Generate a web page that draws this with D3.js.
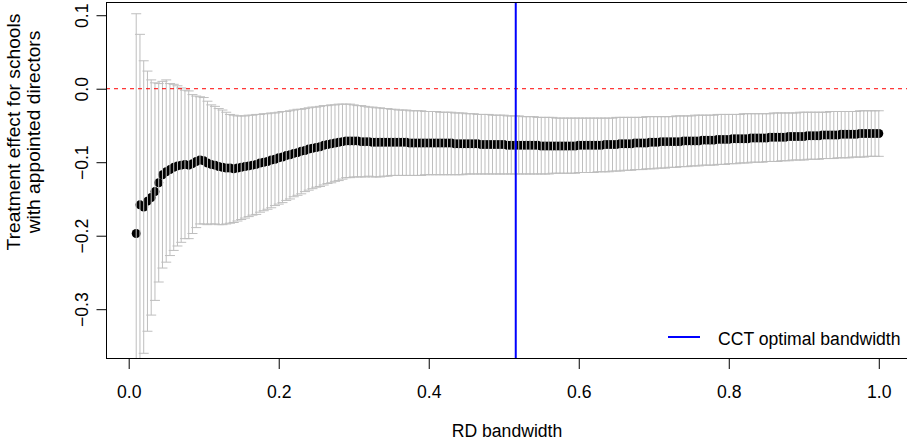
<!DOCTYPE html>
<html>
<head>
<meta charset="utf-8">
<script src="https://cdn.jsdelivr.net/npm/d3@7"></script>
<style>
  html, body { margin: 0; padding: 0; background: #fff; }
  svg { display: block; }
  text { font-family: "Liberation Sans", Arial, Helvetica, sans-serif; }
</style>
</head>
<body>
<svg id="chart" width="907" height="441"></svg>
<script>
// ---- data ----
const bandwidth = [
  0.010,0.015,0.020,0.025,0.030,0.035,0.040,0.045,0.050,0.055,
  0.060,0.065,0.070,0.075,0.080,0.085,0.090,0.095,0.100,0.105,
  0.110,0.115,0.120,0.125,0.130,0.135,0.140,0.145,0.150,0.155,
  0.160,0.165,0.170,0.175,0.180,0.185,0.190,0.195,0.200,0.205,
  0.210,0.215,0.220,0.225,0.230,0.235,0.240,0.245,0.250,0.255,
  0.260,0.265,0.270,0.275,0.280,0.285,0.290,0.295,0.300,0.305,
  0.310,0.315,0.320,0.325,0.330,0.335,0.340,0.345,0.350,0.355,
  0.360,0.365,0.370,0.375,0.380,0.385,0.390,0.395,0.400,0.405,
  0.410,0.415,0.420,0.425,0.430,0.435,0.440,0.445,0.450,0.455,
  0.460,0.465,0.470,0.475,0.480,0.485,0.490,0.495,0.500,0.505,
  0.510,0.515,0.520,0.525,0.530,0.535,0.540,0.545,0.550,0.555,
  0.560,0.565,0.570,0.575,0.580,0.585,0.590,0.595,0.600,0.605,
  0.610,0.615,0.620,0.625,0.630,0.635,0.640,0.645,0.650,0.655,
  0.660,0.665,0.670,0.675,0.680,0.685,0.690,0.695,0.700,0.705,
  0.710,0.715,0.720,0.725,0.730,0.735,0.740,0.745,0.750,0.755,
  0.760,0.765,0.770,0.775,0.780,0.785,0.790,0.795,0.800,0.805,
  0.810,0.815,0.820,0.825,0.830,0.835,0.840,0.845,0.850,0.855,
  0.860,0.865,0.870,0.875,0.880,0.885,0.890,0.895,0.900,0.905,
  0.910,0.915,0.920,0.925,0.930,0.935,0.940,0.945,0.950,0.955,
  0.960,0.965,0.970,0.975,0.980,0.985,0.990,0.995,1.000
];

const estimate = [
  -0.197,-0.158,-0.161,-0.153,-0.148,-0.140,-0.128,-0.117,-0.113,-0.110,
  -0.107,-0.105,-0.104,-0.103,-0.104,-0.102,-0.099,-0.097,-0.098,-0.101,
  -0.103,-0.104,-0.106,-0.107,-0.108,-0.108,-0.109,-0.108,-0.107,-0.106,
  -0.105,-0.104,-0.103,-0.101,-0.100,-0.099,-0.097,-0.096,-0.094,-0.093,
  -0.091,-0.090,-0.088,-0.087,-0.085,-0.084,-0.082,-0.081,-0.080,-0.079,
  -0.077,-0.076,-0.075,-0.074,-0.073,-0.072,-0.071,-0.071,-0.071,-0.071,
  -0.072,-0.072,-0.072,-0.073,-0.073,-0.073,-0.073,-0.073,-0.073,-0.073,
  -0.073,-0.073,-0.073,-0.074,-0.074,-0.074,-0.074,-0.074,-0.074,-0.074,
  -0.074,-0.074,-0.074,-0.074,-0.074,-0.075,-0.075,-0.075,-0.075,-0.075,
  -0.075,-0.075,-0.076,-0.076,-0.076,-0.076,-0.076,-0.076,-0.076,-0.077,
  -0.077,-0.077,-0.077,-0.077,-0.077,-0.077,-0.077,-0.077,-0.078,-0.078,
  -0.078,-0.078,-0.078,-0.078,-0.078,-0.078,-0.078,-0.078,-0.077,-0.077,
  -0.077,-0.077,-0.077,-0.077,-0.077,-0.076,-0.076,-0.076,-0.076,-0.075,
  -0.075,-0.075,-0.075,-0.074,-0.074,-0.074,-0.074,-0.073,-0.073,-0.073,
  -0.072,-0.072,-0.072,-0.072,-0.072,-0.072,-0.071,-0.071,-0.071,-0.071,
  -0.071,-0.070,-0.070,-0.070,-0.070,-0.069,-0.069,-0.069,-0.069,-0.068,
  -0.068,-0.068,-0.068,-0.068,-0.067,-0.067,-0.067,-0.067,-0.067,-0.066,
  -0.066,-0.066,-0.066,-0.066,-0.065,-0.065,-0.065,-0.065,-0.065,-0.064,
  -0.064,-0.064,-0.064,-0.063,-0.063,-0.063,-0.063,-0.063,-0.062,-0.062,
  -0.062,-0.062,-0.062,-0.061,-0.061,-0.061,-0.061,-0.061,-0.061
];

const upperCI = [
   0.102, 0.074, 0.038, 0.024, 0.012, 0.008, 0.007, 0.010, 0.012, 0.007,
   0.006, 0.004, 0.001,-0.002,-0.003,-0.008,-0.010,-0.011,-0.012,-0.017,
  -0.022,-0.024,-0.027,-0.029,-0.032,-0.035,-0.036,-0.037,-0.037,-0.037,
  -0.036,-0.036,-0.035,-0.035,-0.034,-0.034,-0.033,-0.033,-0.032,-0.031,
  -0.031,-0.030,-0.029,-0.028,-0.028,-0.027,-0.026,-0.025,-0.025,-0.024,
  -0.023,-0.023,-0.022,-0.022,-0.021,-0.021,-0.021,-0.021,-0.022,-0.023,
  -0.023,-0.024,-0.025,-0.025,-0.026,-0.026,-0.027,-0.027,-0.028,-0.028,
  -0.029,-0.029,-0.029,-0.030,-0.030,-0.030,-0.030,-0.031,-0.031,-0.031,
  -0.031,-0.032,-0.032,-0.032,-0.032,-0.033,-0.033,-0.033,-0.034,-0.034,
  -0.034,-0.035,-0.035,-0.035,-0.035,-0.036,-0.036,-0.036,-0.036,-0.037,
  -0.037,-0.037,-0.037,-0.038,-0.038,-0.038,-0.038,-0.039,-0.039,-0.039,
  -0.039,-0.039,-0.040,-0.040,-0.040,-0.040,-0.040,-0.040,-0.040,-0.040,
  -0.040,-0.040,-0.040,-0.040,-0.040,-0.040,-0.040,-0.040,-0.039,-0.039,
  -0.039,-0.039,-0.039,-0.039,-0.039,-0.039,-0.038,-0.038,-0.038,-0.038,
  -0.038,-0.038,-0.038,-0.038,-0.037,-0.037,-0.037,-0.037,-0.037,-0.036,
  -0.036,-0.036,-0.036,-0.036,-0.036,-0.035,-0.035,-0.035,-0.035,-0.035,
  -0.035,-0.035,-0.034,-0.034,-0.034,-0.034,-0.034,-0.034,-0.034,-0.034,
  -0.033,-0.033,-0.033,-0.033,-0.033,-0.033,-0.033,-0.032,-0.032,-0.032,
  -0.032,-0.032,-0.032,-0.032,-0.032,-0.031,-0.031,-0.031,-0.031,-0.031,
  -0.031,-0.031,-0.031,-0.030,-0.030,-0.030,-0.030,-0.030,-0.030
];

const lowerCI = [
  -0.496,-0.390,-0.360,-0.330,-0.308,-0.288,-0.263,-0.244,-0.236,-0.227,
  -0.220,-0.214,-0.209,-0.204,-0.204,-0.197,-0.189,-0.184,-0.184,-0.185,
  -0.184,-0.184,-0.185,-0.185,-0.184,-0.183,-0.182,-0.180,-0.178,-0.176,
  -0.174,-0.172,-0.171,-0.168,-0.166,-0.164,-0.162,-0.159,-0.157,-0.155,
  -0.152,-0.150,-0.147,-0.145,-0.143,-0.140,-0.138,-0.136,-0.134,-0.133,
  -0.131,-0.129,-0.128,-0.126,-0.125,-0.123,-0.121,-0.121,-0.120,-0.120,
  -0.120,-0.120,-0.119,-0.120,-0.120,-0.120,-0.119,-0.119,-0.118,-0.118,
  -0.118,-0.118,-0.118,-0.118,-0.118,-0.118,-0.118,-0.117,-0.117,-0.117,
  -0.117,-0.117,-0.117,-0.117,-0.117,-0.117,-0.117,-0.117,-0.116,-0.116,
  -0.116,-0.116,-0.116,-0.116,-0.116,-0.116,-0.116,-0.116,-0.116,-0.116,
  -0.116,-0.116,-0.116,-0.116,-0.116,-0.116,-0.116,-0.116,-0.116,-0.116,
  -0.116,-0.115,-0.115,-0.115,-0.115,-0.115,-0.115,-0.115,-0.114,-0.114,
  -0.114,-0.114,-0.114,-0.113,-0.113,-0.113,-0.113,-0.112,-0.112,-0.112,
  -0.111,-0.111,-0.111,-0.110,-0.110,-0.110,-0.109,-0.109,-0.109,-0.108,
  -0.108,-0.108,-0.107,-0.107,-0.107,-0.106,-0.106,-0.106,-0.105,-0.105,
  -0.105,-0.104,-0.104,-0.104,-0.104,-0.103,-0.103,-0.103,-0.102,-0.102,
  -0.102,-0.101,-0.101,-0.101,-0.100,-0.100,-0.100,-0.100,-0.099,-0.099,
  -0.099,-0.099,-0.098,-0.098,-0.098,-0.097,-0.097,-0.097,-0.097,-0.096,
  -0.096,-0.096,-0.096,-0.095,-0.095,-0.095,-0.095,-0.094,-0.094,-0.094,
  -0.094,-0.093,-0.093,-0.093,-0.093,-0.092,-0.092,-0.092,-0.092
];

const cctBandwidth = 0.516;
const xTicks = [0.0, 0.2, 0.4, 0.6, 0.8, 1.0];
const xTickLabels = ["0.0", "0.2", "0.4", "0.6", "0.8", "1.0"];
const yTicks = [0.1, 0.0, -0.1, -0.2, -0.3];
const yTickLabels = ["0.1", "0.0", "\u22120.1", "\u22120.2", "\u22120.3"];
const xTitle = "RD bandwidth";
const yTitleLines = ["Treatment effect for schools", "with appointed directors"];
const legendLabel = "CCT optimal bandwidth";

// ---- layout ----
const plot = { left: 106, right: 908, top: 2, bottom: 358 };
const FS = 17.6;      // tick labels, x title, legend
const FS_YLAB = 19.2; // y axis title

const svg = d3.select("#chart");

const x = d3.scaleLinear().domain([-0.0296, 1.0396]).range([plot.left + 0.5, plot.right + 0.5]);
const y = d3.scaleLinear().domain([-0.3664, 0.118]).range([plot.bottom, plot.top]);

const rows = bandwidth.map((b, i) => ({ b, est: estimate[i], lo: lowerCI[i], hi: upperCI[i] }));

svg.append("defs").append("clipPath").attr("id", "clip")
  .append("rect")
  .attr("x", plot.left).attr("y", plot.top)
  .attr("width", plot.right - plot.left).attr("height", plot.bottom - plot.top);

const g = svg.append("g").attr("clip-path", "url(#clip)");

// points
g.append("g").selectAll("circle").data(rows).join("circle")
  .attr("cx", d => x(d.b))
  .attr("cy", d => y(d.est))
  .attr("r", 4.5)
  .attr("fill", "#000");

// error bars (drawn over points, as in the original)
const bars = g.append("g").attr("stroke", "#bebebe").attr("stroke-width", 1).attr("fill", "none");
const capHalf = 5;
bars.selectAll("line.v").data(rows).join("line").attr("class", "v")
  .attr("x1", d => x(d.b)).attr("x2", d => x(d.b))
  .attr("y1", d => y(d.lo)).attr("y2", d => y(d.hi));
bars.selectAll("line.ch").data(rows).join("line").attr("class", "ch")
  .attr("x1", d => x(d.b) - capHalf).attr("x2", d => x(d.b) + capHalf)
  .attr("y1", d => y(d.hi)).attr("y2", d => y(d.hi));
bars.selectAll("line.cl").data(rows).join("line").attr("class", "cl")
  .attr("x1", d => x(d.b) - capHalf).attr("x2", d => x(d.b) + capHalf)
  .attr("y1", d => y(d.lo)).attr("y2", d => y(d.lo));

// zero reference line
g.append("line")
  .attr("x1", plot.left).attr("x2", plot.right)
  .attr("y1", y(0)).attr("y2", y(0))
  .attr("stroke", "#ff0000").attr("stroke-width", 1)
  .attr("stroke-dasharray", "4,4");

// CCT optimal bandwidth line
g.append("line")
  .attr("x1", x(cctBandwidth)).attr("x2", x(cctBandwidth))
  .attr("y1", plot.top).attr("y2", plot.bottom)
  .attr("stroke", "#0000ff").attr("stroke-width", 2);

// box
svg.append("rect")
  .attr("x", plot.left + 0.5).attr("y", plot.top + 0.5)
  .attr("width", plot.right - plot.left).attr("height", plot.bottom - plot.top)
  .attr("fill", "none").attr("stroke", "#000").attr("stroke-width", 1);

// x axis
const xAxis = svg.append("g")
  .attr("transform", `translate(0,${plot.bottom + 0.5})`)
  .call(d3.axisBottom(x).tickValues(xTicks).tickSize(10.5)
        .tickFormat((d, i) => xTickLabels[i]));
xAxis.select(".domain").remove();
xAxis.selectAll("line").attr("stroke", "#000");
xAxis.selectAll("text")
  .attr("y", 39).attr("dy", 0)
  .attr("font-size", FS).attr("font-family", "Liberation Sans, Arial, sans-serif")
  .attr("fill", "#000");

// y axis
const yAxis = svg.append("g")
  .attr("transform", `translate(${plot.left + 0.5},0)`)
  .call(d3.axisLeft(y).tickValues(yTicks).tickSize(10)
        .tickFormat((d, i) => yTickLabels[i]));
yAxis.select(".domain").remove();
yAxis.selectAll("line").attr("stroke", "#000");
yAxis.selectAll("text")
  .attr("x", 0).attr("dy", 0)
  .attr("transform", "translate(-19,0) rotate(-90)")
  .attr("text-anchor", "middle")
  .attr("font-size", FS).attr("font-family", "Liberation Sans, Arial, sans-serif")
  .attr("fill", "#000");

// axis titles
svg.append("text")
  .attr("x", (plot.left + plot.right) / 2).attr("y", 437)
  .attr("text-anchor", "middle").attr("font-size", FS)
  .text(xTitle);

const yTitleCenter = 132;
[20, 40].forEach((bx, i) => {
  svg.append("text")
    .attr("transform", `translate(${bx},${yTitleCenter}) rotate(-90)`)
    .attr("text-anchor", "middle").attr("font-size", FS_YLAB)
    .text(yTitleLines[i]);
});

// legend
const leg = svg.append("g");
leg.append("line")
  .attr("x1", 668).attr("x2", 700).attr("y1", 337).attr("y2", 337)
  .attr("stroke", "#0000ff").attr("stroke-width", 2);
leg.append("text")
  .attr("x", 718).attr("y", 345)
  .attr("font-size", FS)
  .text(legendLabel);
</script>
</body>
</html>
